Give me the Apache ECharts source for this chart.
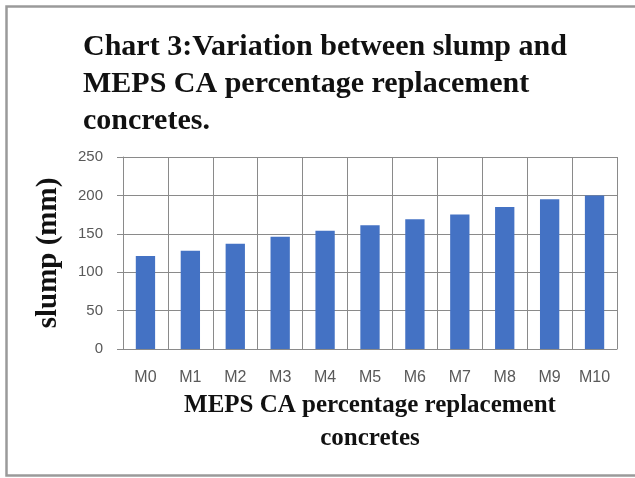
<!DOCTYPE html>
<html>
<head>
<meta charset="utf-8">
<script src="https://cdn.jsdelivr.net/npm/echarts@6/dist/echarts.min.js"></script>
<style>
  html, body { margin: 0; padding: 0; background: #fff; }
  #chart { width: 635px; height: 478px; }
</style>
</head>
<body>
<div id="chart"></div>
<script>
// Mix designations (M0 = control, M1..M10 = increasing MEPS coarse aggregate replacement)
const mixes = ['M0', 'M1', 'M2', 'M3', 'M4', 'M5', 'M6', 'M7', 'M8', 'M9', 'M10'];
// Measured slump for each mix, mm
const slumpMm = [121, 128, 137, 146, 154, 161, 169, 175, 185, 195, 200];
// Value axis ticks
const yTicks = [0, 50, 100, 150, 200, 250];

const titleLines = [
  'Chart 3:Variation between slump and',
  'MEPS CA percentage replacement',
  'concretes.'
];
const xAxisTitle = 'MEPS CA percentage replacement\nconcretes';
const yAxisTitle = 'slump (mm)';

const gridColor = '#8a8a8a';
const labelColor = '#595959';
const serif = '"Liberation Serif", "Times New Roman", serif';
const sans = '"Liberation Sans", Arial, sans-serif';

const chart = echarts.init(document.getElementById('chart'), null, { renderer: 'canvas' });

chart.setOption({
  backgroundColor: '#ffffff',
  animation: false,
  title: {
    text: titleLines.join('\n'),
    left: 78,
    top: 24,
    textStyle: {
      fontFamily: serif,
      fontWeight: 'bold',
      fontSize: 30,
      lineHeight: 37,
      color: '#111'
    }
  },
  graphic: [
    {
      type: 'rect',
      shape: { x: 6.5, y: 6.5, width: 640, height: 469 },
      style: { fill: 'none', stroke: '#9a9a9a', lineWidth: 2.5 },
      silent: true
    }
  ],
  grid: {
    left: 123,
    right: 18,
    top: 157,
    bottom: 129,
    containLabel: false
  },
  xAxis: {
    type: 'category',
    data: mixes,
    boundaryGap: true,
    name: xAxisTitle,
    nameLocation: 'middle',
    nameGap: 40,
    nameTextStyle: {
      fontFamily: serif,
      fontWeight: 'bold',
      fontSize: 25,
      lineHeight: 33,
      color: '#111',
      verticalAlign: 'top'
    },
    axisLine: { show: true, lineStyle: { color: gridColor, width: 1 } },
    axisTick: { show: false },
    axisLabel: {
      fontFamily: sans,
      fontSize: 16,
      color: labelColor,
      margin: 21
    },
    splitLine: {
      show: true,
      interval: 0,
      lineStyle: { color: gridColor, width: 1 }
    }
  },
  yAxis: {
    type: 'value',
    min: yTicks[0],
    max: yTicks[yTicks.length - 1],
    interval: yTicks[1] - yTicks[0],
    name: yAxisTitle,
    nameLocation: 'middle',
    nameGap: 60,
    nameRotate: 90,
    nameTextStyle: {
      fontFamily: serif,
      fontWeight: 'bold',
      fontSize: 29,
      color: '#111'
    },
    axisLine: { show: true, lineStyle: { color: gridColor, width: 1 } },
    axisTick: { show: true, length: 6, lineStyle: { color: gridColor } },
    axisLabel: {
      fontFamily: sans,
      fontSize: 15,
      color: labelColor,
      margin: 20
    },
    splitLine: { show: true, lineStyle: { color: gridColor, width: 1 } }
  },
  series: [
    {
      type: 'bar',
      data: slumpMm,
      barWidth: '43%',
      itemStyle: { color: '#4472C4' }
    }
  ]
});
</script>
</body>
</html>
